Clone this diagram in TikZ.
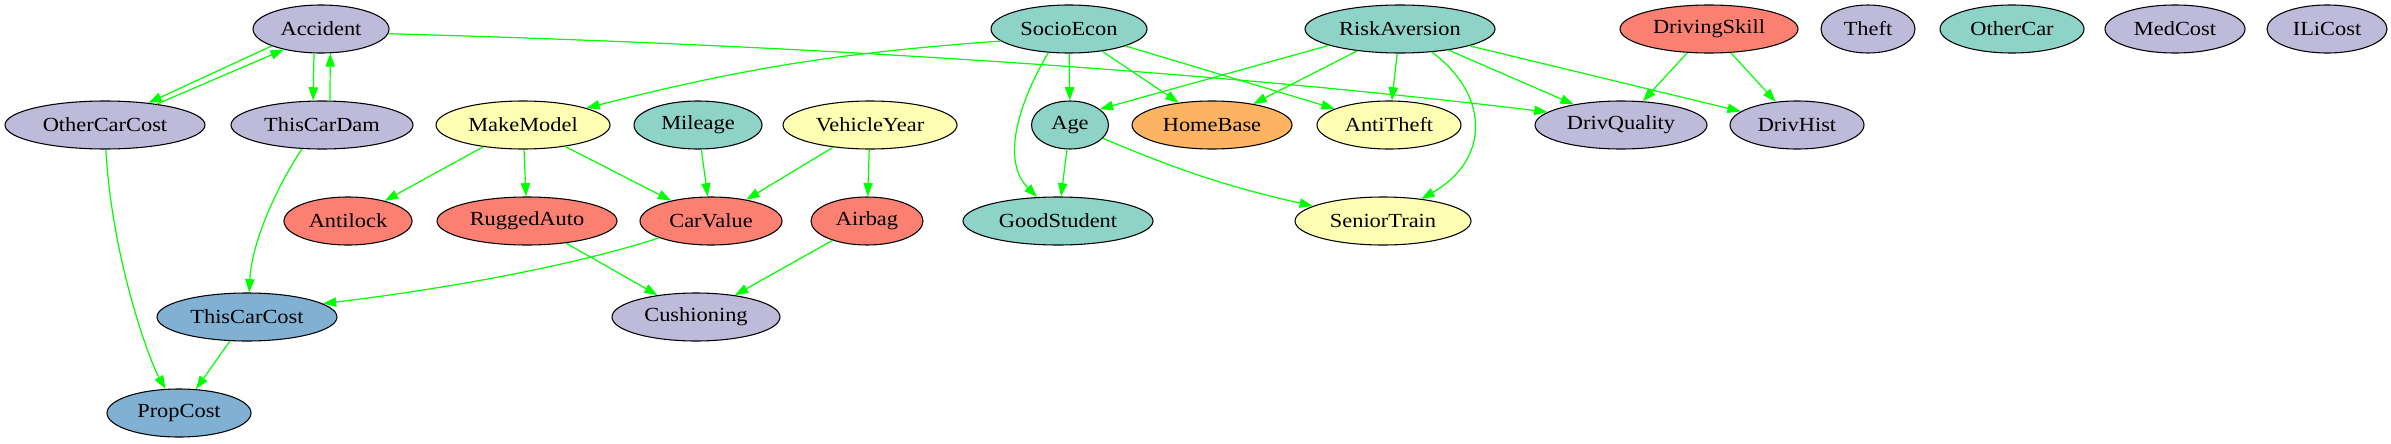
\documentclass[tikz,border=0pt]{standalone}
\usepackage{fontspec}
\setmainfont{Liberation Serif}[FakeStretch=1.12]
\usetikzlibrary{shapes.geometric,arrows.meta}
\definecolor{cLav}{HTML}{BEBADA}
\definecolor{cTeal}{HTML}{8DD3C7}
\definecolor{cYel}{HTML}{FFFFB3}
\definecolor{cSal}{HTML}{FB8072}
\definecolor{cBlue}{HTML}{80B1D3}
\definecolor{cOra}{HTML}{FDB462}
\definecolor{cEdge}{HTML}{00FF00}
\begin{document}
\begin{tikzpicture}[x=0.75pt,y=-0.75pt,
  nd/.style={ellipse,draw=black,line width=0.8pt,minimum height=36pt,
    minimum width=#1*1.5pt,inner sep=0pt,font=\fontsize{15}{17}\selectfont},
  ed/.style={draw=cEdge,line width=0.9pt,-{Triangle[length=10pt,width=7pt]}}]
\path[use as bounding box] (0,0) rectangle (2391,443);
% row 1
\node[nd=68,fill=cLav] (Accident) at (321,29) {Accident};
\node[nd=78,fill=cTeal] (SocioEcon) at (1069,29) {SocioEcon};
\node[nd=95,fill=cTeal] (RiskAversion) at (1400,29) {RiskAversion};
\node[nd=89,fill=cSal] (DrivingSkill) at (1709,29) {DrivingSkill};
\node[nd=47,fill=cLav] (Theft) at (1868,29) {Theft};
\node[nd=72,fill=cTeal] (OtherCar) at (2012,29) {OtherCar};
\node[nd=70,fill=cLav] (MedCost) at (2175,29) {MedCost};
\node[nd=60,fill=cLav] (ILiCost) at (2327,29) {ILiCost};
% row 2
\node[nd=100,fill=cLav] (OtherCarCost) at (105,125) {OtherCarCost};
\node[nd=91,fill=cLav] (ThisCarDam) at (322,125) {ThisCarDam};
\node[nd=87,fill=cYel] (MakeModel) at (523,125) {MakeModel};
\node[nd=64,fill=cTeal] (Mileage) at (698,125) {Mileage};
\node[nd=87,fill=cYel] (VehicleYear) at (870,125) {VehicleYear};
\node[nd=38.5,fill=cTeal] (Age) at (1070,125) {Age};
\node[nd=80,fill=cOra] (HomeBase) at (1212,125) {HomeBase};
\node[nd=72,fill=cYel] (AntiTheft) at (1389,125) {AntiTheft};
\node[nd=86,fill=cLav] (DrivQuality) at (1621,125) {DrivQuality};
\node[nd=67,fill=cLav] (DrivHist) at (1797,125) {DrivHist};
% row 3
\node[nd=64,fill=cSal] (Antilock) at (348,221) {Antilock};
\node[nd=90,fill=cSal] (RuggedAuto) at (527,221) {RuggedAuto};
\node[nd=71,fill=cSal] (CarValue) at (711,221) {CarValue};
\node[nd=56,fill=cSal] (Airbag) at (867,221) {Airbag};
\node[nd=95,fill=cTeal] (GoodStudent) at (1058,221) {GoodStudent};
\node[nd=88,fill=cYel] (SeniorTrain) at (1383,221) {SeniorTrain};
% row 4, 5
\node[nd=90,fill=cBlue] (ThisCarCost) at (247,317) {ThisCarCost};
\node[nd=84,fill=cLav] (Cushioning) at (696,317) {Cushioning};
\node[nd=72,fill=cBlue] (PropCost) at (179,413) {PropCost};
% edges
\draw[ed] (Accident.199) -- (OtherCarCost.27);
\draw[ed] (OtherCarCost.22) -- (Accident.209);
\draw[ed] (Accident.254) -- (ThisCarDam.110);
\draw[ed] (ThisCarDam.72) -- (Accident.291);
\draw[ed] (Accident.-4) .. controls (800,45) and (1200,70) .. (DrivQuality.170);
\draw[ed] (SocioEcon.190) to[bend right=5] (MakeModel.15);
\draw[ed] (SocioEcon) -- (Age);
\draw[ed] (SocioEcon) -- (HomeBase);
\draw[ed] (SocioEcon) -- (AntiTheft);
\draw[ed] (SocioEcon.229) .. controls (1020,100) and (1000,160) .. (GoodStudent.131);
\draw[ed] (RiskAversion.193) -- (Age.28);
\draw[ed] (RiskAversion) -- (HomeBase);
\draw[ed] (RiskAversion) -- (AntiTheft);
\draw[ed] (RiskAversion) -- (DrivQuality);
\draw[ed] (RiskAversion) -- (DrivHist);
\draw[ed] (RiskAversion.324) .. controls (1490,95) and (1490,160) .. (SeniorTrain.30);
\draw[ed] (DrivingSkill) -- (DrivQuality);
\draw[ed] (DrivingSkill) -- (DrivHist);
\draw[ed] (OtherCarCost.-88) .. controls (112,260) and (150,362) .. (PropCost.119);
\draw[ed] (ThisCarDam.230) .. controls (278,185) and (252,240) .. (ThisCarCost.85);
\draw[ed] (MakeModel) -- (Antilock);
\draw[ed] (MakeModel) -- (RuggedAuto);
\draw[ed] (MakeModel) -- (CarValue);
\draw[ed] (Mileage) -- (CarValue);
\draw[ed] (VehicleYear) -- (CarValue);
\draw[ed] (VehicleYear) -- (Airbag);
\draw[ed] (Age) -- (GoodStudent);
\draw[ed] (Age) to[bend right=5] (SeniorTrain);
\draw[ed] (CarValue.198) .. controls (560,270) and (420,292) .. (ThisCarCost.10);
\draw[ed] (RuggedAuto) -- (Cushioning);
\draw[ed] (Airbag) -- (Cushioning);
\draw[ed] (ThisCarCost) -- (PropCost);
\end{tikzpicture}
\end{document}
